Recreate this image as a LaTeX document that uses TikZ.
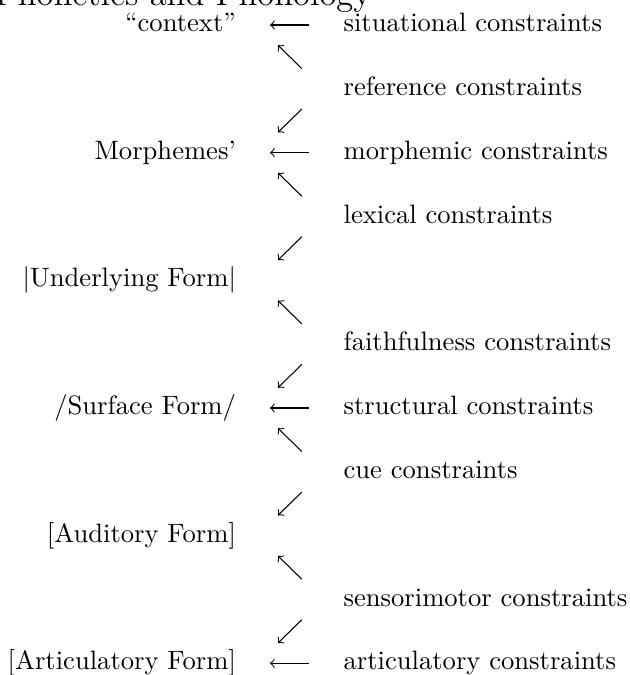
\documentclass[tikz,border=0pt]{standalone}
\usepackage{tikz}
\usetikzlibrary{arrows}

\tikzset{
  level/.style={anchor=base east, inner sep=0pt},
  rule/.style={anchor=base west, inner sep=0pt},
  cmarrow/.style={-to, line width=0.4pt},
}

\begin{document}
\begin{tikzpicture}[x=1pt, y=1pt]
			%%%%% START %%%%%
			\useasboundingbox (0, 0) rectangle (236.5, -253.8);

			\node[anchor=base east, inner sep=0pt, font=\fontsize{13}{15}\selectfont] (title) at (139.8, -1.9) {Phonetics and Phonology};

			% representations
			\node[level] (ctx) at (88.9, -11.9) {“context”};
			\node[level] (morph) at (88.9, -59.9) {Morphemes’};
			\node[level] (uf) at (88.9, -107.9) {$|$Underlying Form$|$};
			\node[level] (sf) at (88.9, -155.9) {/Surface Form/};
			\node[level] (aud) at (88.9, -203.9) {[Auditory Form]};
			\node[level] (art) at (88.9, -251.9) {[Articulatory Form]};

			% constraints
			\node[rule] (sit) at (129, -11.9) {situational constraints};
			\node[rule] (ref) at (129, -35.9) {reference constraints};
			\node[rule] (mor) at (129, -59.9) {morphemic constraints};
			\node[rule] (lex) at (129, -83.9) {lexical constraints};
			\node[rule] (faith) at (129, -131.9) {faithfulness constraints};
			\node[rule] (struc) at (129, -155.9) {structural constraints};
			\node[rule] (cue) at (129, -179.9) {cue constraints};
			\node[rule] (sens) at (129, -227.9) {sensorimotor constraints};
			\node[rule] (artc) at (129, -251.9) {articulatory constraints};

			% left arrows
			\coordinate (l0a) at (116.2, -9.4);   \coordinate (l0b) at (101.5, -9.4);
			\coordinate (l4a) at (116.2, -57.4);  \coordinate (l4b) at (101.5, -57.4);
			\coordinate (l12a) at (116.2, -153.4); \coordinate (l12b) at (101.5, -153.4);
			\coordinate (l20a) at (116.2, -249.4); \coordinate (l20b) at (101.5, -249.4);
			\draw[cmarrow] (l0a) -- (l0b);
			\draw[cmarrow] (l4a) -- (l4b);
			\draw[cmarrow] (l12a) -- (l12b);
			\draw[cmarrow] (l20a) -- (l20b);

			% up and down arrows
			\foreach \j in {1, 5, 9, 13, 17} {
				\coordinate (nw\j a) at (113.5, -9.4-12*\j-4.4);
				\coordinate (nw\j b) at (104.5, -9.4-12*\j+4.4);
				\draw[cmarrow] (nw\j a) -- (nw\j b);
			}
			\foreach \j in {3, 7, 11, 15, 19} {
				\coordinate (sw\j a) at (113.5, -9.4-12*\j+4.4);
				\coordinate (sw\j b) at (104.5, -9.4-12*\j-4.4);
				\draw[cmarrow] (sw\j a) -- (sw\j b);
			}
			%%%%% END %%%%%
		\end{tikzpicture}
\end{document}
